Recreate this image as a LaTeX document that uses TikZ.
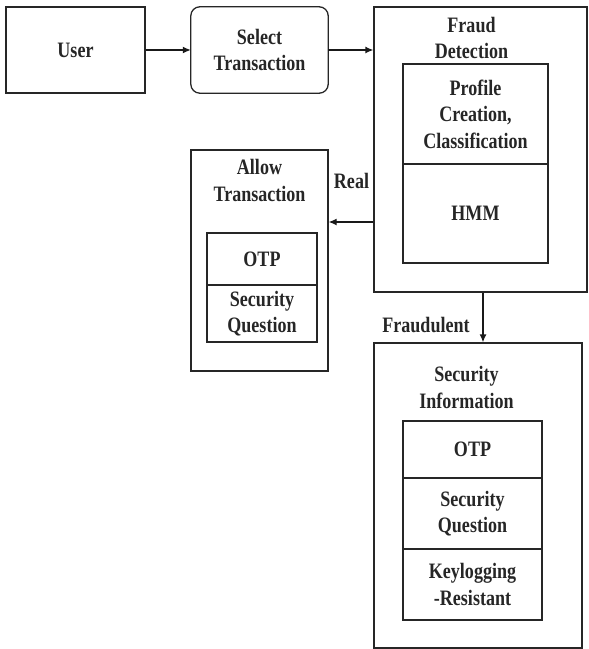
\documentclass[tikz,border=0pt]{standalone}
\usepackage{fontspec}
\setmainfont{Liberation Serif}[FakeStretch=0.82]
\usetikzlibrary{arrows.meta}
\begin{document}
\begin{tikzpicture}[x=1bp,y=-1bp,
  every node/.style={font=\fontsize{22bp}{26.5bp}\selectfont\bfseries, align=center, inner sep=0pt, text=black!85},
  frame/.style={draw=black!85, line width=1.3bp},
  flow/.style={draw=black!90, line width=1.3bp, -{Latex[length=8bp,width=7bp]}}]
\useasboundingbox (0,0) rectangle (589,649);

% top row
\node[frame, minimum width=139bp, minimum height=86bp] (user) at (75.5,50) {User};
\node[minimum width=137bp, minimum height=86bp] (select) at (259.5,50) {Select\\Transaction};
\draw[draw=black!85, line width=1.3bp, rounded corners=9bp]
  (select.north west) rectangle (select.south east);

% fraud detection container
\node[frame, minimum width=213bp, minimum height=285bp] (fraud) at (480.5,149.5) {};
\node (fraudtitle) at (471.5,38) {Fraud\\Detection};
\node[frame, minimum width=145bp, minimum height=100bp] (profile) at (475.5,114) {Profile\\Creation,\\Classification};
\node[frame, minimum width=145bp, minimum height=99bp] (hmm) at (475.5,213.5) {HMM};

% allow transaction container
\node[frame, minimum width=137bp, minimum height=221bp] (allow) at (259.5,260.5) {};
\node (allowtitle) at (259.5,180.5) {Allow\\Transaction};
\node[frame, minimum width=110bp, minimum height=52bp] (otpa) at (262,259) {OTP};
\node[frame, minimum width=110bp, minimum height=57bp] (secqa) at (262,313.5) {Security\\Question};

% security information container
\node[frame, minimum width=208bp, minimum height=305bp] (secinfo) at (478,495.5) {};
\node (sectitle) at (466.5,387.5) {Security\\Information};
\node[frame, minimum width=139bp, minimum height=57bp] (otpb) at (472.5,449.5) {OTP};
\node[frame, minimum width=139bp, minimum height=71bp] (secqb) at (472.5,513.5) {Security\\Question};
\node[frame, minimum width=139bp, minimum height=71bp] (keylog) at (472.5,584.5) {Keylogging\\-Resistant};

% connectors
\draw[flow] (user) -- (select);
\draw[flow] (select.east) -- (select.east -| fraud.west);
\coordinate (realsrc) at (fraud.west |- 0,222);
\draw[flow] (realsrc) -- (realsrc -| allow.east);
\coordinate (fraudsrc) at (483,0 |- fraud.south);
\draw[flow] (fraudsrc) -- (fraudsrc |- secinfo.north);

% branch labels
\node (real) at (351.5,180.5) {Real};
\node (fraudulent) at (426,324.5) {Fraudulent};
\end{tikzpicture}
\end{document}
